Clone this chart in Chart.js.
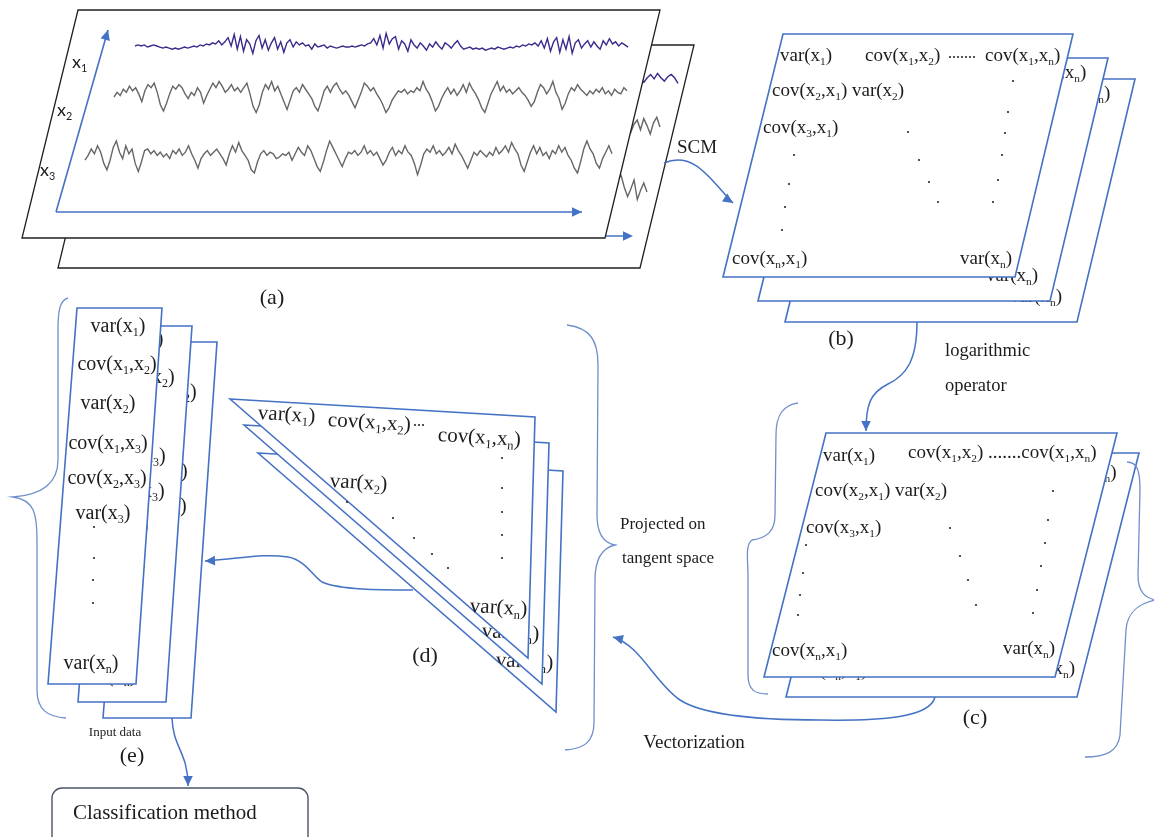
<!DOCTYPE html>
<html><head><meta charset="utf-8">
<script src="https://cdn.jsdelivr.net/npm/chart.js@4.4.1/dist/chart.umd.min.js"></script>
<style>html,body{margin:0;padding:0;background:#fff;overflow:hidden}#wrap{width:1154px;height:837px;position:relative}</style>
</head><body><div id="wrap"><canvas id="c"></canvas></div>
<script>
// ---------------- data (signal samples) ----------------
const signalNames = ['x1', 'x2', 'x3'];
const x1Values = [0,1,0,1,-1,0,1,0,-1,-2, -1,-2,-3,-2,-3,-2,-1,-2,-1,0, -1,1,0,2,1,3,2,5,1,4,
  8,0,11,-3,9,-5,6,2,-7,5, 10,-2,6,-4,3,8,-3,4,-6,3, 6,-1,4,1,3,0,1,-3,2,-1,
  0,1,-2,0,-1,-2,-1,0,-1,-1, 0,-1,0,1,0,2,3,7,1,10, -2,12,2,7,9,-3,5,2,-5,6,
  1,-2,3,0,-4,2,-1,4,0,-3, 3,1,-2,2,5,0,-3,-2,-1,-3, -2,-3,-2,-4,-3,-2,-3,-1,-2,-3,
  -2,-1,-2,0,-1,1,0,2,1,3, 0,5,-2,7,-5,4,8,-6,6,-3, 9,-7,3,6,-2,2,5,-1,4,0, -3,5,1,7,2,4,0,3,1,-1];
const x2Values = [0,3,1,5,3,7,4,6,2,-3, 4,8,6,9,3,-5,-9,-4,2,7, 5,8,6,2,-1,3,1,6,3,-4,
  1,5,9,6,10,7,3,5,8,4, 6,3,6,9,2,-6,-10,-5,3,8, 5,10,4,7,2,-3,-8,-2,4,6,
  3,8,5,2,-1,-6,-9,-3,4,7, 3,7,9,5,2,4,1,-3,-7,-2, 3,9,7,4,6,2,-1,-5,-10,-7,
  -2,1,4,3,5,2,4,3,6,4, 10,5,2,-3,-9,-6,-1,3,6,2, 5,1,4,8,3,9,5,2,-2,-7,
  -10,-4,2,6,10,4,7,3,5,2, 4,6,3,1,-2,-6,-3,3,8,6, 2,5,10,3,-1,-8,-4,2,6,4,
  8,5,3,1,4,2,5,3,6,2, 4,1,5,3,2,6,4];
const x3Values = [-2,1,5,2,7,3,-4,-8,-2,6, 10,3,-1,7,2,5,-4,-9,-3,4, 5,2,4,1,3,0,2,-1,4,2,
  5,1,3,7,2,-2,-7,-1,2,4, 1,3,5,2,-1,-5,2,7,3,9, 4,1,-2,-8,-10,-3,2,4,1,3,
  2,-1,0,2,1,3,-2,2,6,3, 1,7,4,-1,-6,-9,-3,4,10,6, 2,-2,-6,-1,3,2,4,1,3,7,
  2,4,1,3,-1,-5,-2,3,6,1, 4,2,7,3,1,-4,-11,-5,2,5, 3,7,2,4,1,3,6,2,8,4,
  1,-3,-7,-2,3,1,4,2,0,3, 1,6,2,4,7,3,9,5,2,-5, -9,-3,3,7,2,6,1,3,-1,4,
  2,7,3,6,1,-2,-7,-10,-3,5, 10,5,2,-4,-7,-1,3,7,2];
// the same channels on the second (back) trial sheet, visible only at its edge
const x1BackValues = [1,-1,0,2,-1,3,0,-2,2,5,1,6,2,-1,3,5,2,-3];
const x2BackValues = [3,-2,5,1,-3,4,8,-4,2,5,-2,6,1,-5,3,7,0];
const x3BackValues = [-4,2,-6,3,5,-8,-10,4,9,11,3,-3,2,8,-5,1,6,0];

// ---------------- layout & style (kept apart from the data) ----------------
const W = 1154, H = 837;
const BLUE = '#4472c4', INK = '#1c1c1c';
const SERIF = '"Liberation Serif", "Times New Roman", serif';
const SANS = 'Lato, "Liberation Sans", sans-serif';
const PURPLE = '#3a2a8c', GREY = '#666666';
const BANDS = [
  {vals: x1Values, s: 135, e: 628, c: 46, a: 1.05, color: PURPLE, front: true},
  {vals: x2Values, s: 114, e: 627, c: 97, a: 1.55, color: GREY, front: true},
  {vals: x3Values, s: 85, e: 612, c: 157, a: 1.6, color: GREY, front: true},
  {vals: x1BackValues, s: 620, e: 678, c: 80, a: 1.1, color: PURPLE, front: false},
  {vals: x2BackValues, s: 608, e: 660, c: 127, a: 1.4, color: GREY, front: false},
  {vals: x3BackValues, s: 592, e: 647, c: 192, a: 1.5, color: GREY, front: false}
];

const scales = {
  px: {type: 'linear', axis: 'x', display: false, bounds: 'data', min: 0, max: W},
  py: {type: 'linear', axis: 'y', display: false, bounds: 'data', min: 0, max: H, reverse: true}
};
const datasets = BANDS.map((b, k) => {
  const n = b.vals.length;
  const range = W * (n - 1) / (b.e - b.s);
  const xmin = -b.s * (n - 1) / (b.e - b.s);
  scales['sx' + k] = {type: 'linear', axis: 'x', display: false, bounds: 'data', min: xmin, max: xmin + range};
  scales['sy' + k] = {type: 'linear', axis: 'y', display: false, bounds: 'data', min: -(H - b.c) / b.a, max: b.c / b.a};
  return {
    label: k < 3 ? signalNames[k] : signalNames[k - 3] + ' (sheet 2)',
    data: b.vals.map((v, i) => ({x: i, y: v})),
    xAxisID: 'sx' + k, yAxisID: 'sy' + k,
    borderColor: b.color, borderWidth: 1.4, pointRadius: 0, tension: 0,
    order: b.front ? 1 : 2, front: b.front
  };
});

// geometry of the diagram
const A_BACK = [[112,45],[694,45],[640,268],[58,268]];
const A_FRONT = [[78,10],[660,10],[605,238],[22,238]];
const B_FRONT = [[783,34],[1073,34],[1015,277],[723,277]];
const B_SHIFT = [[62,45,50,38],[35,24,26,17],[0,0,0,0]];
const C_FRONT = [[826,433],[1117,433],[1055,677],[764,677]];
const C_SHIFT = [[22,20,20,20],[0,0,0,0]];
const D_FRONT = [[230,399],[535,417],[528,658]];
const D_SHIFT = [[28,54,26,54],[14,26,12,25],[0,0,0,0]];
const E_FRONT = [[77,308],[162,308],[136,684],[48,684]];
const E_SHIFT = [[55,34,40,28],[30,18,18,13],[0,0,0,0]];

const B_TEXT = [['var(x_1)',780,55],['cov(x_1,x_2)',865,55],['cov(x_1,x_n)',985,55],
  ['cov(x_2,x_1) var(x_2)',772,90],['cov(x_3,x_1)',763,127],['cov(x_n,x_1)',732,258],['var(x_n)',960,258]];
const B_DOTS = [[794,155],[789,184],[785,207],[782,230],[908,132],[919,160],[929,182],[938,202],
  [1013,81],[1008,112],[1005,133],[1002,155],[998,180],[993,202],[950,57],[954,57],[958,57],[962,57],[966,57],[970,57],[974,57]];
const C_TEXT = [['var(x_1)',823,455],['cov(x_1,x_2) .......cov(x_1,x_n)',908,452],['cov(x_2,x_1) var(x_2)',815,490],
  ['cov(x_3,x_1)',806,527],['cov(x_n,x_1)',772,650],['var(x_n)',1003,648]];
const C_DOTS = [[806,545],[803,573],[800,595],[798,615],[950,528],[960,556],[968,580],[976,605],
  [1053,491],[1048,520],[1045,543],[1041,566],[1037,590],[1033,613]];
const D_TEXT = [['var(x_1)',258,412],['cov(x_1,x_2)',328,419],['cov(x_1,x_n)',438,434],['var(x_2)',330,480],['var(x_n)',470,605]];
const D_DOTS = [[415,425],[419,425],[423,425],[502,458],[502,488],[502,512],[502,535],[502,558],
  [347,502],[393,518],[414,538],[432,554],[448,568]];
const E_TEXT = [['var(x_1)',118,325],['cov(x_1,x_2)',117,363],['var(x_2)',108,402],['cov(x_1,x_3)',108,442],
  ['cov(x_2,x_3)',107,477],['var(x_3)',103,512],['var(x_n)',91,662]];
const E_DOTS = [[94,527],[94,558],[93,580],[93,603]];

const LABELS = [['(a)',272,297,22,'center'],['(b)',841,338,22,'center'],['(c)',975,717,22,'center'],
  ['(d)',425,655,22,'center'],['(e)',132,755,22,'center'],['SCM',697,147,19,'center'],
  ['logarithmic',945,350,18.5,'left'],['operator',945,385,18.5,'left'],
  ['Projected on',620,523,17,'left'],['tangent space',622,557,17,'left'],
  ['Vectorization',694,742,19,'center'],['Input data',115,732,13,'center'],
  ['Classification method',73,812,21,'left']];

const BRACES = [
  [['M',68,298],['C',60,300,58,310,58,330],['L',58,460],['C',58,485,40,495,13,497],['C',35,500,37,515,37,540],['L',37,690],['C',37,710,48,717,66,718]],
  [['M',567,325],['C',590,328,598,340,598,365],['L',597,515],['C',597,535,604,543,615,545],['C',602,548,595,560,595,580],['L',594,722],['C',594,742,584,749,565,750]],
  [['M',798,403],['C',783,405,776,415,776,435],['L',775,515],['C',775,532,766,538,752,540],['C',745,545,748,560,748,575],['L',748,675],['C',748,690,755,694,768,694]],
  [['M',1127,462],['C',1137,462,1140,470,1140,490],['L',1138,575],['C',1138,592,1145,598,1156,600],['C',1140,603,1127,612,1126,630],['L',1120,735],['C',1118,752,1105,757,1085,757]]
];
const ARROWS = [
  {p: [['M',664,163],['C',695,150,712,182,733,203]], from: [718,193]},
  {p: [['M',917,322],['C',917,362,905,376,888,384],['C',870,393,866,405,866,431]], from: [866,410]},
  {p: [['M',413,590],['C',380,590,340,590,322,582],['C',312,575,305,560,288,557],['C',262,553,240,559,205,561]], from: [230,560]},
  {p: [['M',935,697],['C',930,718,880,721,820,720],['C',745,720,700,713,680,700],['C',655,683,640,645,613,637]], from: [632,642]},
  {p: [['M',172,718],['C',173,748,188,752,188,786]], from: [188,760]}
];

// ---------------- drawing helpers ----------------
function mapper(chart) {
  const sx = chart.scales.px, sy = chart.scales.py;
  return (x, y) => [sx.getPixelForValue(x), sy.getPixelForValue(y)];
}
function poly(ctx, T, pts, dx, dy) {
  ctx.beginPath();
  pts.forEach((p, i) => { const q = T(p[0] + dx, p[1] + dy); i ? ctx.lineTo(q[0], q[1]) : ctx.moveTo(q[0], q[1]); });
  ctx.closePath();
}
function pathCmds(ctx, T, cmds) {
  ctx.beginPath();
  for (const c of cmds) {
    const op = c[0], pts = [];
    for (let i = 1; i < c.length; i += 2) pts.push(T(c[i], c[i + 1]));
    if (op === 'M') ctx.moveTo(...pts[0]);
    else if (op === 'L') ctx.lineTo(...pts[0]);
    else if (op === 'C') ctx.bezierCurveTo(...pts[0], ...pts[1], ...pts[2]);
  }
}
function head(ctx, tip, from, color) {
  const ang = Math.atan2(tip[1] - from[1], tip[0] - from[0]);
  const L = 10, Wd = 4.8;
  ctx.save(); ctx.fillStyle = color; ctx.beginPath();
  ctx.moveTo(tip[0], tip[1]);
  ctx.lineTo(tip[0] - L * Math.cos(ang) + Wd * Math.sin(ang), tip[1] - L * Math.sin(ang) - Wd * Math.cos(ang));
  ctx.lineTo(tip[0] - L * Math.cos(ang) - Wd * Math.sin(ang), tip[1] - L * Math.sin(ang) + Wd * Math.cos(ang));
  ctx.closePath(); ctx.fill(); ctx.restore();
}
function parseRich(str) {
  const out = [];
  for (let i = 0; i < str.length; i++) {
    const ch = str[i];
    if (ch === '_') { out.push({t: str[i + 1], sub: true}); i++; }
    else if (out.length && !out[out.length - 1].sub) out[out.length - 1].t += ch;
    else out.push({t: ch, sub: false});
  }
  return out;
}
function rich(ctx, str, x, y, size, opt) {
  opt = opt || {};
  const fam = opt.fam || SERIF;
  const mainF = size + 'px ' + fam, subF = (size * 0.6).toFixed(1) + 'px ' + fam;
  const toks = parseRich(str);
  let w = 0;
  for (const t of toks) { ctx.font = t.sub ? subF : mainF; w += ctx.measureText(t.t).width; }
  ctx.save();
  ctx.translate(x, y);
  if (opt.rot) ctx.rotate(opt.rot);
  ctx.fillStyle = opt.color || INK;
  ctx.textBaseline = 'alphabetic';
  let cx = opt.align === 'center' ? -w / 2 : opt.align === 'right' ? -w : 0;
  const base = size * 0.33;
  for (const t of toks) {
    ctx.font = t.sub ? subF : mainF;
    ctx.fillText(t.t, cx, t.sub ? base + size * 0.2 : base);
    cx += ctx.measureText(t.t).width;
  }
  ctx.restore();
}
function dots(ctx, T, list, dx, dy) {
  ctx.save(); ctx.fillStyle = '#2a2a2a';
  for (const d of list) { const q = T(d[0] + dx, d[1] + dy); ctx.beginPath(); ctx.arc(q[0], q[1], 1.1, 0, 2 * Math.PI); ctx.fill(); }
  ctx.restore();
}
// draws a stack of sheets back to front; back sheets show only the listed texts, clipped to the sheet
function sheetStack(ctx, T, shape, shifts, texts, dl, size, align, rot, backTexts, backDots) {
  shifts.forEach((s, idx) => {
    const front = idx === shifts.length - 1;
    ctx.save();
    poly(ctx, T, shape, s[0], s[1]);
    ctx.fillStyle = '#fff'; ctx.fill();
    ctx.strokeStyle = BLUE; ctx.lineWidth = 1.6; ctx.stroke();
    if (!front) { poly(ctx, T, shape, s[0], s[1]); ctx.clip(); }
    const tl = front ? texts : (backTexts || texts);
    const dd = front ? dl : (backDots || dl);
    for (const t of tl) { const q = T(t[1] + s[2], t[2] + s[3]); rich(ctx, t[0], q[0], q[1], size, {align, rot}); }
    dots(ctx, T, dd, s[2], s[3]);
    ctx.restore();
  });
}

const diagram = {
  id: 'diagram',
  beforeDraw(chart) {
    const ctx = chart.ctx; ctx.save(); ctx.fillStyle = '#fff'; ctx.fillRect(0, 0, chart.width, chart.height); ctx.restore();
  },
  beforeDatasetsDraw(chart) {
    chart.$frontDone = false;
    const ctx = chart.ctx, T = mapper(chart);
    // (a) back sheet
    ctx.save();
    poly(ctx, T, A_BACK, 0, 0); ctx.fillStyle = '#fff'; ctx.fill();
    ctx.strokeStyle = '#202020'; ctx.lineWidth = 1.3; ctx.stroke();
    ctx.strokeStyle = BLUE; ctx.lineWidth = 1.6;
    const a = T(590, 236), b = T(630, 236);
    ctx.beginPath(); ctx.moveTo(...a); ctx.lineTo(...b); ctx.stroke(); head(ctx, T(633, 236), T(620, 236), BLUE);
    ctx.restore();
    // (b)..(e) sheets
    sheetStack(ctx, T, B_FRONT, B_SHIFT, B_TEXT, B_DOTS, 19, 'left', 0, [B_TEXT[2], B_TEXT[6]]);
    sheetStack(ctx, T, C_FRONT, C_SHIFT, C_TEXT, C_DOTS, 19, 'left', 0);
    sheetStack(ctx, T, D_FRONT, D_SHIFT, D_TEXT, D_DOTS, 21, 'left', 0.059, [D_TEXT[4]], []);
    sheetStack(ctx, T, E_FRONT, E_SHIFT, E_TEXT, E_DOTS, 20, 'center', 0);
    // braces
    ctx.save(); ctx.strokeStyle = '#6f8fcc'; ctx.lineWidth = 1.3;
    for (const br of BRACES) { pathCmds(ctx, T, br); ctx.stroke(); }
    ctx.restore();
    // arrows
    ctx.save(); ctx.strokeStyle = BLUE; ctx.lineWidth = 1.5;
    for (const ar of ARROWS) {
      pathCmds(ctx, T, ar.p); ctx.stroke();
      const last = ar.p[ar.p.length - 1];
      head(ctx, T(last[last.length - 2], last[last.length - 1]), T(ar.from[0], ar.from[1]), BLUE);
    }
    ctx.restore();
    // classification box
    ctx.save();
    const p0 = T(52, 788), p1 = T(308, 852);
    ctx.beginPath(); ctx.roundRect(p0[0], p0[1], p1[0] - p0[0], p1[1] - p0[1], 10);
    ctx.fillStyle = '#fff'; ctx.fill(); ctx.strokeStyle = '#4a5566'; ctx.lineWidth = 1.4; ctx.stroke();
    ctx.restore();
    // labels
    for (const l of LABELS) { const q = T(l[1], l[2]); rich(ctx, l[0], q[0], q[1], l[3], {align: l[4]}); }
  },
  beforeDatasetDraw(chart, args) {
    const ds = chart.data.datasets[args.index];
    if (!ds.front || chart.$frontDone) return;
    chart.$frontDone = true;
    const ctx = chart.ctx, T = mapper(chart);
    ctx.save();
    poly(ctx, T, A_FRONT, 0, 0); ctx.fillStyle = '#fff'; ctx.fill();
    ctx.strokeStyle = '#202020'; ctx.lineWidth = 1.3; ctx.stroke();
    ctx.strokeStyle = BLUE; ctx.lineWidth = 1.6;
    const o = T(56, 212), ty = T(108, 30), tx = T(582, 212);
    ctx.beginPath(); ctx.moveTo(...o); ctx.lineTo(...ty); ctx.stroke(); head(ctx, ty, o, BLUE);
    ctx.beginPath(); ctx.moveTo(...o); ctx.lineTo(...tx); ctx.stroke(); head(ctx, tx, o, BLUE);
    const labs = [['x_1', 72, 62], ['x_2', 57, 110], ['x_3', 40, 170]];
    for (const l of labs) { const q = T(l[1], l[2]); rich(ctx, l[0], q[0], q[1], 18, {fam: SANS}); }
    ctx.restore();
  }
};

new Chart(document.getElementById('c'), {
  type: 'line',
  data: {datasets},
  options: {
    responsive: true, maintainAspectRatio: false, animation: false, events: [],
    layout: {padding: 0},
    plugins: {legend: {display: false}, tooltip: {enabled: false}, title: {display: false}},
    scales
  },
  plugins: [diagram]
});
</script></body></html>
